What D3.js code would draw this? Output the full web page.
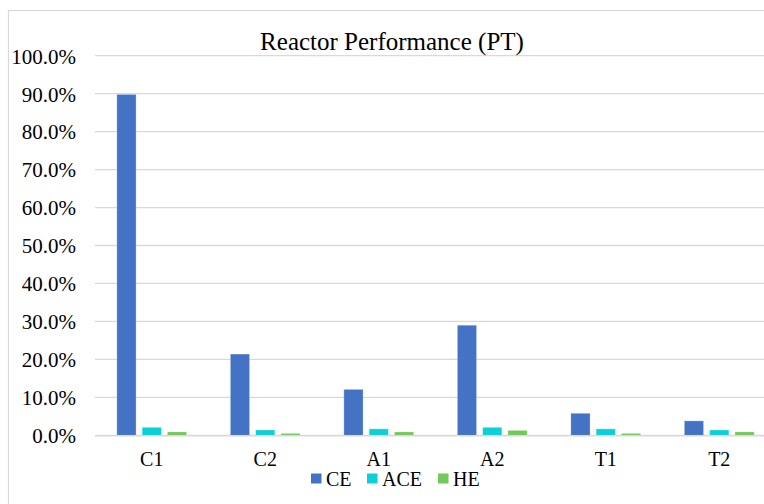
<!DOCTYPE html>
<html><head><meta charset="utf-8">
<script src="https://cdn.jsdelivr.net/npm/d3@7"></script>
<style>
html,body{margin:0;padding:0;background:#fff;}
svg{display:block;}
svg text{font-family:"Liberation Serif","Times New Roman",Tinos,"DejaVu Serif",serif;}
</style></head>
<body><svg id="chart" width="764" height="504"></svg>
<script>
const title = "Reactor Performance (PT)";
const categories = ["C1","C2","A1","A2","T1","T2"];
const seriesNames = ["CE","ACE","HE"];
const seriesColors = ["#4472C4","#0DCFDA","#72C85A"];
const CE  = [89.8, 21.4, 12.1, 29.0, 5.8, 3.8];
const ACE = [2.1, 1.4, 1.7, 2.1, 1.7, 1.4];
const HE  = [0.9, 0.5, 0.9, 1.3, 0.5, 0.9];
const yTicks = [0,10,20,30,40,50,60,70,80,90,100];

(function(){
const seriesValues = [CE, ACE, HE];
const data = categories.map((c,i)=>({cat:c, vals:seriesNames.map((s,j)=>({key:s, value:seriesValues[j][i], color:seriesColors[j]}))}));

const svg = d3.select("#chart");
svg.append("rect").attr("x",8.5).attr("y",10.5).attr("width",800).attr("height",600)
  .attr("fill","#fff").attr("stroke","#d9d9d9").attr("stroke-width",1.2);

const pL=95, pR=776, pT=55.7, pB=435.3;
const x0 = d3.scaleBand().domain(categories).range([pL,pR]).paddingInner(0.385).paddingOuter(0.1925);
const x1 = d3.scaleBand().domain(seriesNames).range([0,x0.bandwidth()]).paddingInner(0.24).paddingOuter(0);
const y = d3.scaleLinear().domain([0,100]).range([pB,pT]);

svg.append("g").selectAll("line").data(yTicks).join("line")
  .attr("x1",pL).attr("x2",pR).attr("y1",d=>y(d)).attr("y2",d=>y(d))
  .attr("stroke","#d9d9d9").attr("stroke-width",1.3);

const yAxis = d3.axisLeft(y).tickValues(yTicks).tickSize(0).tickPadding(19).tickFormat(d=>d.toFixed(1)+"%");
const ya = svg.append("g").attr("transform",`translate(${pL},0)`).call(yAxis);
ya.select(".domain").remove();
ya.attr("font-family",null).attr("font-size",null);
ya.selectAll("text").style("font-size","21px").attr("fill","#000").attr("dy","0.35em");

const groups = svg.append("g").selectAll("g").data(data).join("g")
  .attr("transform",d=>`translate(${x0(d.cat)},0)`);
groups.selectAll("rect").data(d=>d.vals).join("rect")
  .attr("x",d=>x1(d.key)).attr("width",x1.bandwidth())
  .attr("y",d=>y(d.value)).attr("height",d=>y(0)-y(d.value))
  .attr("fill",d=>d.color).attr("stroke","#fff").attr("stroke-opacity",0.35).attr("stroke-width",0.8);

svg.append("line").attr("x1",pL).attr("x2",pR).attr("y1",y(0)+0.5).attr("y2",y(0)+0.5)
  .attr("stroke","#d9d9d9").attr("stroke-width",1.5);

const xAxis = d3.axisBottom(x0).tickSize(0).tickPadding(17);
const xa = svg.append("g").attr("transform",`translate(0,${y(0)})`).call(xAxis);
xa.select(".domain").remove();
xa.attr("font-family",null).attr("font-size",null);
xa.selectAll("text").style("font-size","20px").attr("fill","#000");

svg.append("text").attr("x",392).attr("y",50).attr("text-anchor","middle")
  .style("font-size","25px").attr("fill","#000").text(title);

const legendX = [311, 367, 438];
const lg = svg.append("g").selectAll("g").data(seriesNames).join("g")
  .attr("transform",(d,i)=>`translate(${legendX[i]},473.5)`);
lg.append("rect").attr("width",10.5).attr("height",10).attr("fill",(d,i)=>seriesColors[i]);
lg.append("text").attr("x",15).attr("y",12.5).style("font-size","20px").attr("fill","#000").text(d=>d);
})();
</script></body></html>
